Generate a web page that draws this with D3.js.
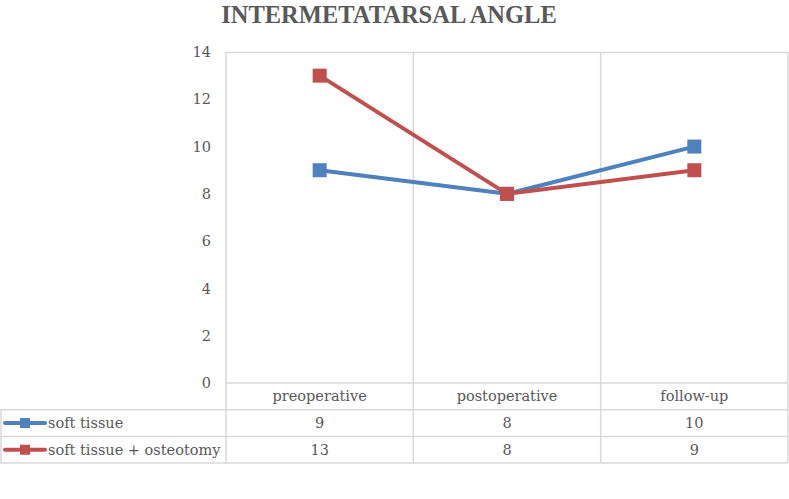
<!DOCTYPE html>
<html><head><meta charset="utf-8">
<script src="https://cdn.jsdelivr.net/npm/d3@7"></script>
<style>body{margin:0;background:#fff}svg{display:block}</style>
</head><body><svg id="c" width="789" height="499"></svg>
<script>
const title = "INTERMETATARSAL ANGLE";
const categories = ["preoperative", "postoperative", "follow-up"];
const seriesNames = ["soft tissue", "soft tissue + osteotomy"];
const softTissue = [9, 8, 10];
const softTissueOsteotomy = [13, 8, 9];
const yTicks = [0, 2, 4, 6, 8, 10, 12, 14];
const colors = ["#4F81BD", "#C0504D"];

const series = [
  {name: seriesNames[0], values: softTissue, color: colors[0]},
  {name: seriesNames[1], values: softTissueOsteotomy, color: colors[1]}
];

const svg = d3.select("#c");
const font = "'DejaVu Serif', 'Liberation Serif', serif";
const textColor = "#595959";
const grid = "#D9D9D9";

const pL = 226, pR = 788, pT = 52, pB = 383;
const rowH = 26.7;
const x = d3.scaleBand().domain(categories).range([pL, pR]);
const y = d3.scaleLinear().domain([0, 14]).range([pB, pT]);

// title
svg.append("text").attr("x", 389).attr("y", 23).attr("text-anchor", "middle")
  .attr("font-family", "'Liberation Serif', serif").attr("font-weight", "bold")
  .attr("font-size", 24.5).attr("fill", textColor).text(title);

// top line
svg.append("line").attr("x1", pL).attr("x2", pR).attr("y1", pT + 0.5).attr("y2", pT + 0.5)
  .attr("stroke", grid).attr("stroke-width", 1.5);

// vertical grid/table lines
const tableBottom = pB + rowH * 3;
const vx = [pL, ...categories.map(c => x(c) + x.bandwidth())];
vx.forEach(vv => {
  svg.append("line").attr("x1", vv).attr("x2", vv).attr("y1", pT).attr("y2", tableBottom)
    .attr("stroke", grid).attr("stroke-width", 1.5);
});
svg.append("line").attr("x1", 1).attr("x2", 1).attr("y1", pB + rowH).attr("y2", tableBottom)
  .attr("stroke", grid).attr("stroke-width", 1.5);
svg.append("line").attr("x1", pL).attr("x2", pR).attr("y1", pB).attr("y2", pB)
  .attr("stroke", grid).attr("stroke-width", 1.5);
[1, 2, 3].forEach(r => {
  svg.append("line").attr("x1", 0).attr("x2", pR).attr("y1", pB + rowH * r).attr("y2", pB + rowH * r)
    .attr("stroke", grid).attr("stroke-width", 1.5);
});

// y axis labels
const yAxis = d3.axisLeft(y).tickValues(yTicks).tickSize(0).tickPadding(0);
const ya = svg.append("g").attr("transform", "translate(211,0)").call(yAxis);
ya.select(".domain").remove();
ya.selectAll("text").attr("font-family", font).attr("font-size", 14.5).attr("fill", textColor);

// category labels
svg.selectAll(".cat").data(categories).enter().append("text")
  .attr("x", d => x(d) + x.bandwidth() / 2).attr("y", pB + rowH / 2 + 5)
  .attr("text-anchor", "middle").attr("font-family", font).attr("font-size", 14.5)
  .attr("fill", textColor).text(d => d);

// table rows
series.forEach((s, i) => {
  const cy = pB + rowH * (i + 1) + rowH / 2;
  svg.append("line").attr("x1", 5).attr("x2", 45).attr("y1", cy).attr("y2", cy)
    .attr("stroke", s.color).attr("stroke-width", 4).attr("stroke-linecap", "round");
  svg.append("rect").attr("x", 20).attr("y", cy - 5).attr("width", 10).attr("height", 10).attr("fill", s.color);
  svg.append("text").attr("x", 48).attr("y", cy + 5).attr("font-family", font).attr("font-size", 14.5)
    .attr("fill", textColor).text(s.name);
  s.values.forEach((v, j) => {
    svg.append("text").attr("x", x(categories[j]) + x.bandwidth() / 2).attr("y", cy + 5)
      .attr("text-anchor", "middle").attr("font-family", font).attr("font-size", 14.5)
      .attr("fill", textColor).text(v);
  });
});

// lines
const line = d3.line().x((d, j) => x(categories[j]) + x.bandwidth() / 2).y(d => y(d));
series.forEach(s => {
  svg.append("path").datum(s.values).attr("d", line).attr("fill", "none")
    .attr("stroke", s.color).attr("stroke-width", 4).attr("stroke-linejoin", "round").attr("stroke-linecap", "round");
  svg.selectAll(null).data(s.values).enter().append("rect")
    .attr("x", (d, j) => x(categories[j]) + x.bandwidth() / 2 - 7)
    .attr("y", d => y(d) - 7).attr("width", 14).attr("height", 14).attr("fill", s.color);
});
</script></body></html>
